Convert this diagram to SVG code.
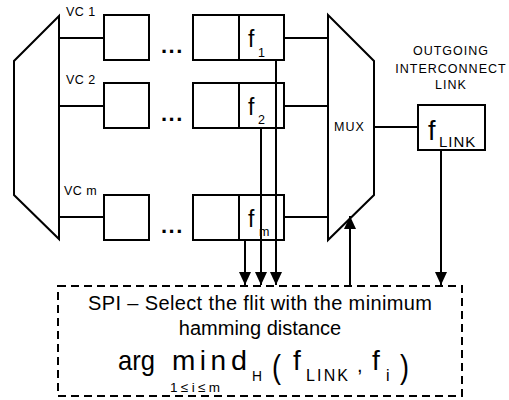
<svg xmlns="http://www.w3.org/2000/svg" width="509" height="400" viewBox="0 0 509 400">
<defs>
<style>
.s{fill:#fff;stroke:#000;stroke-width:2}
.l{fill:none;stroke:#000;stroke-width:2}
text{font-family:"Liberation Sans",Arial,sans-serif;fill:#000}
.lab{font-size:12.5px;letter-spacing:1px}
.dots{font-size:22px;font-weight:bold;letter-spacing:1.5px}
.f{font-size:23px}
.sub{font-size:12.5px}
.big{font-size:28px}
</style>
<marker id="ah" markerUnits="userSpaceOnUse" markerWidth="13" markerHeight="12" refX="13" refY="6" orient="auto">
<path d="M0,0 L13,6 L0,12 z" fill="#000"/>
</marker>
</defs>
<rect width="509" height="400" fill="#fff"/>

<g id="demux">
<polygon class="s" points="59,16 14,61 14,195 59,239"/>
</g>

<g id="vc1">
<text class="lab" x="66" y="16" style="letter-spacing:0.5px">VC 1</text>
<rect class="s" x="104" y="15" width="45" height="45"/>
<text class="dots" x="161" y="53">...</text>
<rect class="s" x="193" y="15" width="91" height="45"/>
<line class="l" x1="239" y1="15" x2="239" y2="60"/>
<text class="f" x="248" y="47">f</text>
<text class="sub" x="258" y="57">1</text>
</g>

<g id="vc2">
<text class="lab" x="66" y="84" style="letter-spacing:0.5px">VC 2</text>
<rect class="s" x="104" y="83" width="45" height="45"/>
<text class="dots" x="161" y="121">...</text>
<rect class="s" x="193" y="83" width="91" height="45"/>
<line class="l" x1="239" y1="83" x2="239" y2="128"/>
<text class="f" x="248" y="115">f</text>
<text class="sub" x="258" y="124">2</text>
</g>

<g id="vcm">
<text class="lab" x="64" y="195" style="letter-spacing:0.5px">VC m</text>
<rect class="s" x="104" y="195" width="45" height="45"/>
<text class="dots" x="161" y="233">...</text>
<rect class="s" x="193" y="195" width="91" height="45"/>
<line class="l" x1="239" y1="195" x2="239" y2="240"/>
<text class="f" x="248" y="227">f</text>
<text class="sub" x="259" y="236">m</text>
</g>

<g id="mux">
<polygon class="s" points="328,15 374,61 374,195 328,240"/>
<text class="lab" x="334" y="131">MUX</text>
</g>

<g id="outgoing-label">
<text class="lab" x="451" y="55" text-anchor="middle">OUTGOING</text>
<text class="lab" x="451" y="73" text-anchor="middle">INTERCONNECT</text>
<text class="lab" x="451" y="89" text-anchor="middle">LINK</text>
</g>

<g id="flink">
<rect class="s" x="418" y="105" width="67" height="45"/>
<text x="428" y="140" style="font-size:27px">f</text>
<text x="439" y="147" style="font-size:15px;letter-spacing:1px">LINK</text>
</g>

<g id="connectors">
<line class="l" x1="59" y1="38" x2="104" y2="38"/>
<line class="l" x1="59" y1="106" x2="104" y2="106"/>
<line class="l" x1="59" y1="217" x2="104" y2="217"/>
<line class="l" x1="284" y1="38" x2="328" y2="38"/>
<line class="l" x1="284" y1="106" x2="328" y2="106"/>
<line class="l" x1="284" y1="217" x2="328" y2="217"/>
<line class="l" x1="374" y1="127" x2="418" y2="127"/>
<line class="l" x1="276" y1="60" x2="276" y2="285" marker-end="url(#ah)"/>
<line class="l" x1="261" y1="128" x2="261" y2="285" marker-end="url(#ah)"/>
<line class="l" x1="245" y1="240" x2="245" y2="285" marker-end="url(#ah)"/>
<line class="l" x1="441" y1="150" x2="441" y2="285" marker-end="url(#ah)"/>
<line class="l" x1="350" y1="286" x2="350" y2="216" marker-end="url(#ah)"/>
</g>

<g id="spi">
<rect x="58" y="286" width="404" height="110" fill="none" stroke="#000" stroke-width="2" stroke-dasharray="8 5"/>
<text x="88" y="310" style="font-size:20px" textLength="344" lengthAdjust="spacing">SPI – Select the flit with the minimum</text>
<text x="260" y="335" style="font-size:20px" text-anchor="middle">hamming distance</text>
<text class="big" x="118" y="370" textLength="37" lengthAdjust="spacingAndGlyphs">arg</text>
<text class="big" x="172" y="370" textLength="54" lengthAdjust="spacing">min</text>
<text class="big" x="231" y="370" textLength="16" lengthAdjust="spacingAndGlyphs">d</text>
<text x="252" y="381" style="font-size:15px" textLength="10" lengthAdjust="spacingAndGlyphs">H</text>
<text x="272" y="378" style="font-size:33px" textLength="9" lengthAdjust="spacingAndGlyphs">(</text>
<text class="big" x="293" y="370">f</text>
<text x="306" y="381" style="font-size:16px" textLength="42" lengthAdjust="spacing">LINK</text>
<text x="357" y="372" style="font-size:20px">,</text>
<text class="big" x="372" y="370">f</text>
<text x="386" y="381" style="font-size:16px">i</text>
<text x="400" y="378" style="font-size:33px" textLength="9" lengthAdjust="spacingAndGlyphs">)</text>
<text x="170" y="392" style="font-size:13.5px" textLength="50" lengthAdjust="spacing">1≤i≤m</text>
</g>
</svg>
